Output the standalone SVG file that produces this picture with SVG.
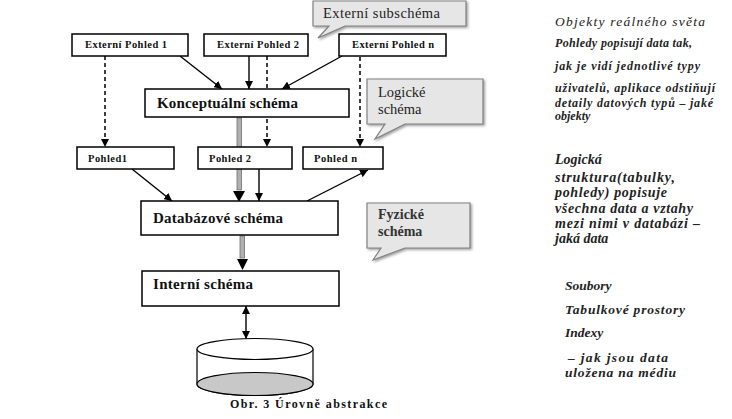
<svg xmlns="http://www.w3.org/2000/svg" width="732" height="419" viewBox="0 0 732 419">
<defs>
<marker id="ah" viewBox="0 0 10 10" refX="10" refY="5" markerWidth="8" markerHeight="8" markerUnits="userSpaceOnUse" orient="auto"><path d="M0,0 L10,5 L0,10 Z" fill="#000"/></marker>
<marker id="ahs" viewBox="0 0 10 10" refX="10" refY="5" markerWidth="8" markerHeight="8" markerUnits="userSpaceOnUse" orient="auto-start-reverse"><path d="M0,0 L10,5 L0,10 Z" fill="#000"/></marker>
<filter id="sh" x="-10%" y="-10%" width="130%" height="140%"><feDropShadow dx="1.5" dy="1.5" stdDeviation="0.8" flood-color="#666" flood-opacity="0.6"/></filter>
</defs>
<style>
.box{fill:#fff;stroke:#000;stroke-width:1.5}
.call{fill:#e6e6e6;stroke:#808080;stroke-width:1.2}
.ln{stroke:#000;stroke-width:1.4;fill:none}
.dash{stroke:#000;stroke-width:1.5;fill:none;stroke-dasharray:4,3}
.bar{fill:#b0b0b0;stroke:#707070;stroke-width:0.8}
.sm{font-family:"Liberation Serif","DejaVu Serif",serif;font-weight:bold;font-size:10.5px;fill:#111}
.big{font-family:"Liberation Serif","DejaVu Serif",serif;font-weight:bold;font-size:15px;fill:#111}
.ct{font-family:"Liberation Serif","DejaVu Serif",serif;font-size:14.5px;fill:#222}
.ctb{font-family:"Liberation Serif","DejaVu Serif",serif;font-size:14px;font-weight:bold;fill:#333}
.it{font-family:"Liberation Serif","DejaVu Serif",serif;font-style:italic;fill:#222}
.cap{font-family:"Liberation Serif","DejaVu Serif",serif;font-weight:bold;font-size:12px;fill:#111}
</style>
<rect width="732" height="419" fill="#fff"/>
<g id="connectors">
<line class="ln" x1="180" y1="56" x2="222" y2="89" marker-end="url(#ah)"/>
<line class="ln" x1="249" y1="56" x2="249" y2="89" marker-end="url(#ah)"/>
<line class="ln" x1="342" y1="56" x2="282" y2="89" marker-end="url(#ah)"/>
<line class="dash" x1="105" y1="56" x2="105" y2="147" marker-end="url(#ah)"/>
<line class="dash" x1="267" y1="56" x2="267" y2="147" marker-end="url(#ah)"/>
<line class="dash" x1="360" y1="57" x2="360" y2="147" marker-end="url(#ah)"/>
<rect class="bar" x="237" y="118" width="4.5" height="72"/>
<polygon points="233,191 245,191 239,202" fill="#000"/>
<line class="ln" x1="132" y1="169" x2="172" y2="201" marker-end="url(#ah)"/>
<line class="ln" x1="259" y1="169" x2="259" y2="201" marker-end="url(#ah)"/>
<line class="ln" x1="307" y1="201" x2="368" y2="170" marker-end="url(#ah)"/>
<rect class="bar" x="240" y="236" width="4.5" height="22"/>
<polygon points="237,259 248,259 242.5,270" fill="#000"/>
<line class="ln" x1="246" y1="306" x2="246" y2="339" marker-start="url(#ahs)" marker-end="url(#ah)"/>
</g>
<g id="callout-externi-subschema">
<path class="call" filter="url(#sh)" d="M313,1 H466 V26 H345 L318,38 L329,26 H313 Z"/>
<text class="ct" x="323" y="18" textLength="117">Externí subschéma</text>
</g>
<g id="callout-logicke-schema">
<path class="call" filter="url(#sh)" d="M367,79 H483 V124 H405 L375,139 L385,124 H367 Z"/>
<text class="ct" x="378" y="97">Logické</text>
<text class="ct" x="378" y="114">schéma</text>
</g>
<g id="callout-fyzicke-schema">
<path class="call" filter="url(#sh)" d="M367,203 H470 V248 H405 L373,260 L381,248 H367 Z"/>
<text class="ctb" x="378" y="219">Fyzické</text>
<text class="ctb" x="378" y="236">schéma</text>
</g>
<g id="externi-pohled-1">
<rect class="box" x="72" y="34" width="116" height="22"/>
<text class="sm" x="85" y="48" textLength="82">Externí Pohled 1</text>
</g>
<g id="externi-pohled-2">
<rect class="box" x="204" y="34" width="104" height="22"/>
<text class="sm" x="217" y="48" textLength="82">Externí Pohled 2</text>
</g>
<g id="externi-pohled-n">
<rect class="box" x="339" y="34" width="107" height="22"/>
<text class="sm" x="352" y="48" textLength="82">Externí Pohled n</text>
</g>
<g id="konceptualni-schema">
<rect class="box" x="145" y="89" width="204" height="28"/>
<text class="big" x="157" y="108" textLength="141">Konceptuální schéma</text>
</g>
<g id="pohled1">
<rect class="box" x="77" y="147" width="97" height="22"/>
<text class="sm" x="88" y="162" textLength="39">Pohled1</text>
</g>
<g id="pohled2">
<rect class="box" x="198" y="147" width="94" height="22"/>
<text class="sm" x="209" y="162" textLength="42">Pohled 2</text>
</g>
<g id="pohledn">
<rect class="box" x="303" y="147" width="80" height="22"/>
<text class="sm" x="314" y="162" textLength="43">Pohled n</text>
</g>
<g id="databazove-schema">
<rect class="box" x="141" y="201" width="197" height="34"/>
<text class="big" x="153" y="223" textLength="130">Databázové schéma</text>
</g>
<g id="interni-schema">
<rect class="box" x="142" y="271" width="197" height="35"/>
<text class="big" x="153" y="289" textLength="100">Interní schéma</text>
</g>
<g id="disk">
<path d="M197,349 V384 A58,11.5 0 0 0 313,384 V349" fill="#fff" stroke="#000" stroke-width="1.2"/>
<ellipse cx="255" cy="384" rx="58" ry="11.5" fill="#c8c8c8" stroke="#000" stroke-width="1.2"/>
<ellipse cx="255" cy="349" rx="58" ry="10.5" fill="#fff" stroke="#000" stroke-width="1.2"/>
</g>
<text class="cap" x="230" y="408" textLength="157">Obr. 3  Úrovně abstrakce</text>
<g id="notes">
<text class="it" x="555" y="26" font-size="13.5" textLength="150">Objekty reálného světa</text>
<text class="it" x="555" y="47" font-size="12" font-weight="bold" textLength="137">Pohledy popisují data tak,</text>
<text class="it" x="555" y="70" font-size="12" font-weight="bold" textLength="145">jak  je vidí jednotlivé typy</text>
<text class="it" x="555" y="92" font-size="12" font-weight="bold" textLength="160">uživatelů, aplikace odstiňují</text>
<text class="it" x="555" y="107" font-size="12" font-weight="bold" textLength="158">detaily datových typů – jaké</text>
<text class="it" x="555" y="120" font-size="12" font-weight="bold">objekty</text>
<text class="it" x="555" y="164" font-size="14" font-weight="bold">Logická</text>
<text class="it" x="555" y="182" font-size="14" font-weight="bold" textLength="120">struktura(tabulky,</text>
<text class="it" x="555" y="197" font-size="14" font-weight="bold" textLength="112">pohledy) popisuje</text>
<text class="it" x="555" y="213" font-size="14" font-weight="bold" textLength="138">všechna data a vztahy</text>
<text class="it" x="555" y="228" font-size="14" font-weight="bold" textLength="145">mezi  nimi v databázi –</text>
<text class="it" x="555" y="243" font-size="14" font-weight="bold">jaká data</text>
<text class="it" x="565" y="290" font-size="13.5" font-weight="bold">Soubory</text>
<text class="it" x="565" y="314" font-size="13.5" font-weight="bold" textLength="120">Tabulkové prostory</text>
<text class="it" x="565" y="337" font-size="13.5" font-weight="bold">Indexy</text>
<text class="it" x="568" y="362" font-size="13.5" font-weight="bold" textLength="100">– jak jsou data</text>
<text class="it" x="565" y="377" font-size="13.5" font-weight="bold" textLength="111">uložena na médiu</text>
</g>
</svg>
